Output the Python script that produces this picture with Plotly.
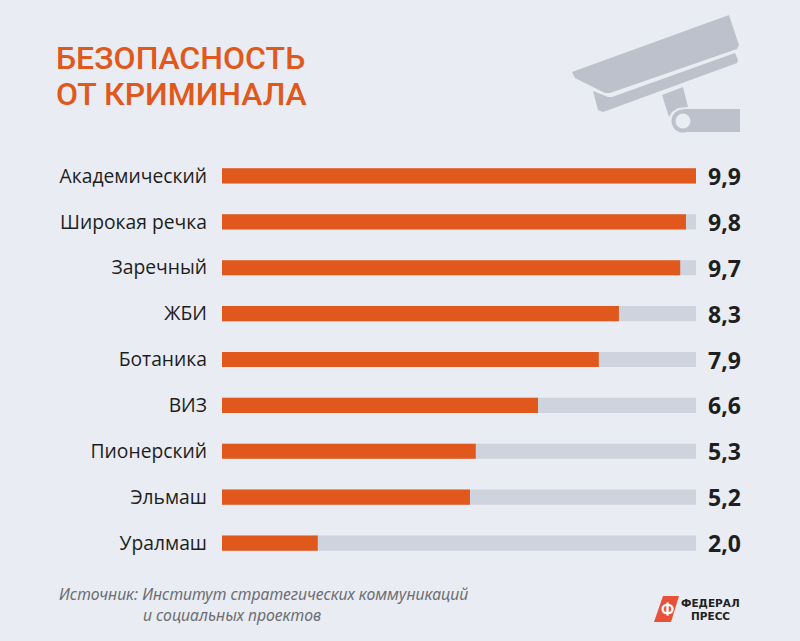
import plotly.graph_objects as go

# --- data ---
districts = ["Академический", "Широкая речка", "Заречный", "ЖБИ", "Ботаника", "ВИЗ", "Пионерский", "Эльмаш", "Уралмаш"]
value_labels = ["9,9", "9,8", "9,7", "8,3", "7,9", "6,6", "5,3", "5,2", "2,0"]
# bar lengths as drawn in the picture
bar_lengths = [9.9, 9.69, 9.57, 8.29, 7.87, 6.6, 5.3, 5.18, 2.0]
track_lengths = [9.9] * 9

BG = "#e9ecf2"
ORANGE = "#e0581b"
TRACK = "#cfd3de"
ICON = "#bcc1cb"
INK = "#1e1e1e"
W, H = 800, 641
L, R, T, B = 222, 696, 153, 566


def px(x):
    return (x - L) / (R - L)


def py(y):
    return (B - y) / (B - T)


def path(points):
    return "M " + " L ".join(f"{px(x):.4f},{py(y):.4f}" for x, y in points) + " Z"


def poly(points, color):
    return dict(type="path", xref="paper", yref="paper", path=path(points),
                fillcolor=color, line=dict(width=0), layer="above")


def circle(cx, cy, r, color):
    return dict(type="circle", xref="paper", yref="paper", x0=px(cx - r), x1=px(cx + r),
                y0=py(cy + r), y1=py(cy - r), fillcolor=color, line=dict(width=0), layer="above")


def note(x, y, text, size, color, family, anchor="left", weight=None):
    font = dict(size=size, color=color, family=family)
    if weight:
        font["weight"] = weight
    return dict(xref="paper", yref="paper", x=px(x), y=py(y), text=text, showarrow=False,
                xanchor=anchor, yanchor="middle", font=font)


fig = go.Figure()
fig.add_bar(y=districts, x=track_lengths, orientation="h", marker=dict(color=TRACK, line_width=0),
            width=0.33, hoverinfo="skip")
fig.add_bar(y=districts, x=bar_lengths, orientation="h", marker=dict(color=ORANGE, line_width=0),
            width=0.33, text=value_labels, hovertemplate="%{y}: %{text}<extra></extra>", textposition="none")

annotations = [
    note(54, 58, "БЕЗОПАСНОСТЬ", 32, ORANGE, "Roboto", weight=500),
    note(54, 94, "ОТ КРИМИНАЛА", 32, ORANGE, "Roboto", weight=500),
    note(57, 594, "<i>Источник: Институт стратегических коммуникаций</i>", 15.8, "#6d6f75", "Noto Sans"),
    note(141, 615, "<i>и социальных проектов</i>", 15.8, "#6d6f75", "Noto Sans"),
    note(710, 603, "<b>ФЕДЕРАЛ</b>", 10.5, "#222222", "DejaVu Sans", anchor="center"),
    note(710, 616, "<b>ПРЕСС</b>", 10.5, "#222222", "DejaVu Sans", anchor="center"),
    note(667, 609, "<b>Ф</b>", 16, "#ffffff", "Roboto", anchor="center"),
]
for name, label in zip(districts, value_labels):
    annotations.append(dict(xref="x", yref="y", x=track_lengths[0], y=name, text=f"<b>{label}</b>", showarrow=False,
                            xanchor="left", yanchor="middle", xshift=10,
                            font=dict(size=23, color=INK, family="Open Sans")))

shapes = [
    poly([(572, 72), (729, 15), (739, 45), (737, 49), (610, 93), (605, 93), (575, 78)], ICON),
    poly([(593, 91), (608, 97), (612, 97), (735, 53), (738, 60), (737, 63), (603, 112), (598, 110)], ICON),
    poly([(662, 95), (683, 87), (688, 107), (678, 108), (672, 112), (669, 117)], ICON),
    poly([(683, 109), (740, 109), (740, 132), (683, 132)], ICON),
    circle(683, 121, 11.5, ICON),
    circle(683, 121, 7.5, BG),
    poly([(663, 596), (679, 596), (671, 622), (654, 622)], "#e8503a"),
]

fig.update_layout(
    width=W, height=H, autosize=False,
    margin=dict(l=L, r=W - R, t=T, b=H - B),
    paper_bgcolor=BG, plot_bgcolor=BG,
    barmode="overlay", showlegend=False,
    xaxis=dict(range=[0, 9.9], visible=False, fixedrange=True),
    yaxis=dict(type="category", categoryorder="array", categoryarray=districts, autorange="reversed",
               showgrid=False, zeroline=False, showline=False, ticks="", ticklabelstandoff=14, fixedrange=True,
               tickfont=dict(size=19.3, color=INK, family="Open Sans")),
    annotations=annotations, shapes=shapes,
)
fig.write_html("out.html", config=dict(displayModeBar=False),
               post_script="document.body.style.margin='0';document.documentElement.style.overflow='hidden';window.dispatchEvent(new Event('resize'));")
